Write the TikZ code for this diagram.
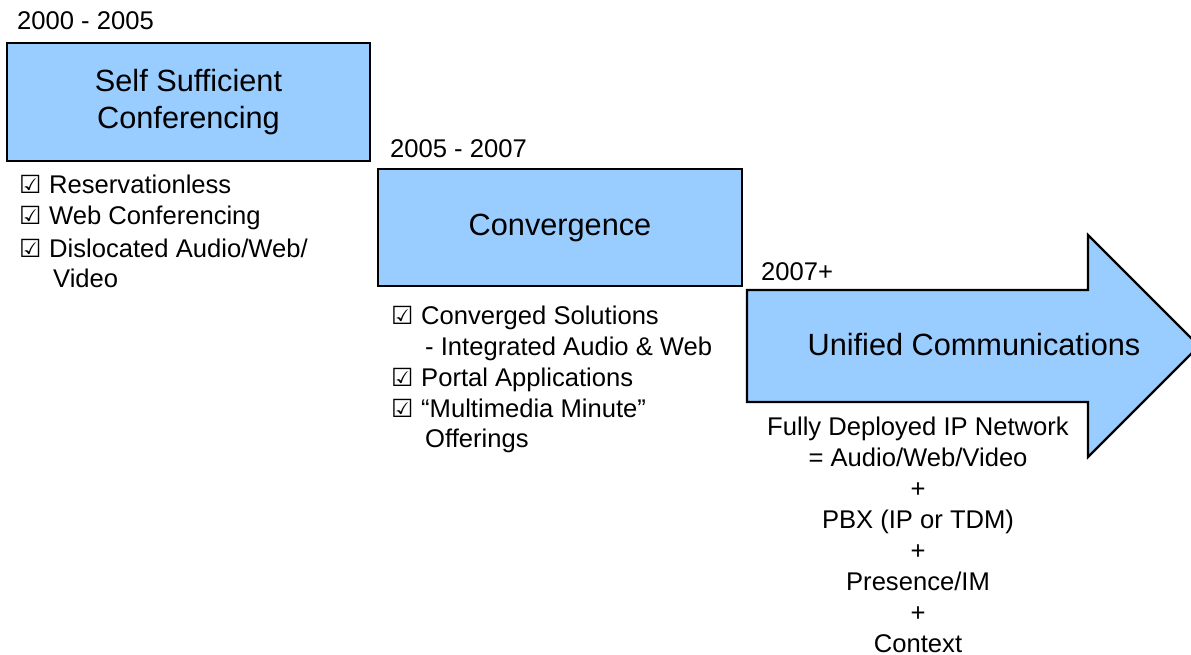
\documentclass[tikz,border=0pt]{standalone}
\usepackage{fontspec}
\setmainfont{Liberation Sans}
\newfontfamily\symfont{DejaVu Sans}
\usepackage{tikz}
\definecolor{cStage}{RGB}{153,204,255}
\newcommand{\titlefont}{\fontsize{30.7}{36.7}\selectfont}
\newcommand{\itemfont}{\fontsize{25.6}{31}\selectfont}
\newcommand{\chk}{\makebox[30pt][l]{\symfont\fontsize{25}{30}\selectfont ☑}}
\tikzset{
	stagefill/.style={draw=black, line width=2.2pt, fill=cStage},
	stage/.style    ={stagefill, rectangle, align=center, font=\titlefont},
	year/.style     ={anchor=base west, inner sep=0pt, font=\itemfont},
	item/.style     ={anchor=base west, inner sep=0pt, font=\itemfont},
	note/.style     ={anchor=base, inner sep=0pt, font=\itemfont},
}
\begin{document}
\begin{tikzpicture}[x=1pt, y=-1pt]
	\clip (0,0) rectangle (1191,655);
	% the three stages
	\node[stage, minimum width=363pt, minimum height=118pt] (ssc) at (188.5,102) {Self Sufficient\\Conferencing};
	\node[stage, minimum width=364pt, minimum height=117pt] (conv) at (560,227.5) {Convergence};
	\draw[stagefill] (747,290) -- (1088,290) -- (1088,235) -- (1199,346) -- (1088,457) -- (1088,402) -- (747,402) -- cycle;
	\node[font=\titlefont, anchor=base] (uc) at (974,355) {Unified Communications};
	% periods
	\node[year] (y1) at (17,30) {2000 - 2005};
	\node[year] (y2) at (390,158) {2005 - 2007};
	\node[year] (y3) at (761,280) {2007+};
	% features of the first stage
	\node[item] (ssc-1) at (19,194) {\chk Reservationless};
	\node[item] (ssc-2) at (19,225) {\chk Web Conferencing};
	\node[item] (ssc-3) at (19,257) {\chk Dislocated Audio/Web/};
	\node[item] (ssc-4) at (53,287) {Video};
	% features of the second stage
	\node[item] (conv-1) at (391,324) {\chk Converged Solutions};
	\node[item] (conv-2) at (425,355) {- Integrated Audio \& Web};
	\node[item] (conv-3) at (391,386) {\chk Portal Applications};
	\node[item] (conv-4) at (391,417) {\chk “Multimedia Minute”};
	\node[item] (conv-5) at (425,447) {Offerings};
	% what the last stage is made of
	\foreach \t [count=\i] in {Fully Deployed IP Network, = Audio/Web/Video, +, PBX (IP or TDM), +, Presence/IM, +, Context}
		\node[note] (uc-\i) at (918,{404+31*\i}) {\t};
\end{tikzpicture}
\end{document}
